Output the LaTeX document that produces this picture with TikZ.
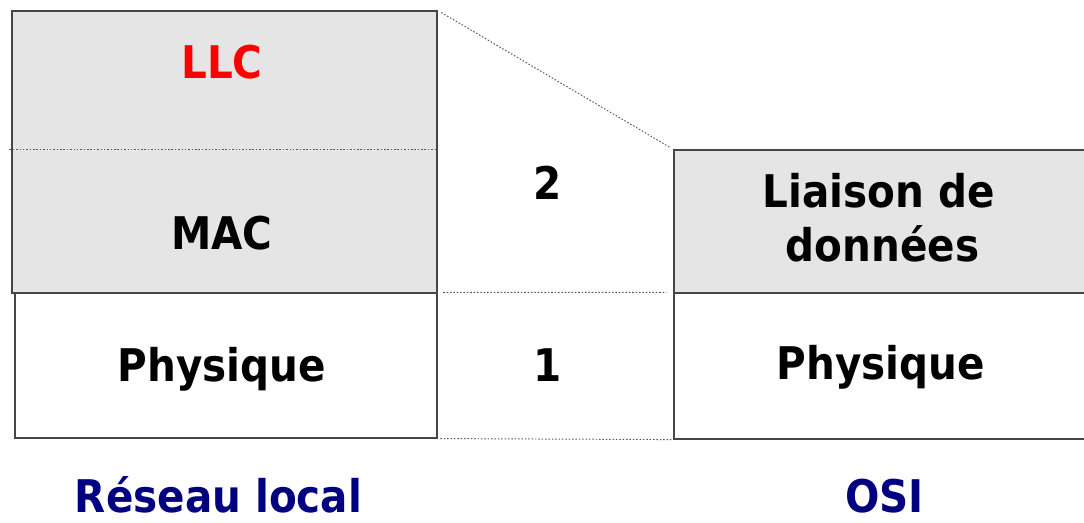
\documentclass[tikz,border=0pt]{standalone}
\usepackage{xcolor}
\usepackage{fontspec}
\setmainfont{DejaVu Sans Condensed}
\usepackage{tikz}
\usetikzlibrary{calc}

\definecolor{layergray}{RGB}{229,229,229}
\definecolor{framegray}{RGB}{70,70,70}
\definecolor{labelblue}{RGB}{0,0,128}

\tikzset{
	layer/.style={draw=framegray, line width=0.8pt, rectangle, inner sep=0pt, minimum width=#1},
	lbl/.style={anchor=base, inner sep=0pt, font=\fontsize{32}{38}\selectfont\bfseries},
	guide/.style={dash pattern=on 1.1pt off 1.3pt, line width=0.7pt, draw=black!65}
}

\begin{document}
\begin{tikzpicture}[x=0.025cm, y=-0.025cm]
\useasboundingbox (0,0) rectangle (1084,523);
\clip (0,0) rectangle (1084,523);

% Schichten Reseau local
\node[layer=10.625cm, minimum height=7.05cm, fill=layergray] (lan2) at (224.5,152) {};
\node[layer=10.55cm, minimum height=3.625cm] (lan1) at (226,365.5) {};
\draw[guide] ($(lan2.west)+(-2,-3)$) coordinate (m) -- (m -| lan2.east);

% Schichten OSI
\node[layer=10.65cm, minimum height=3.575cm, fill=layergray] (osi2) at (887,221.5) {};
\node[layer=10.65cm, minimum height=3.65cm] (osi1) at (887,366) {};

% Verbindungen
\draw[guide, shorten <=3pt, shorten >=2pt] (lan2.north east) -- (osi2.north west);
\draw[guide, shorten <=4pt, shorten >=5pt] (lan1.north east) -- (osi1.north west);
\draw[guide, shorten <=2pt] (lan1.south east) -- (osi1.south west);

\node[lbl, text=red] (llc) at (222,79) {LLC};
\node[lbl] (mac) at (222,250) {MAC};
\node[lbl] (phys) at (222,382) {Physique};

\node[lbl] (n2) at (548,200) {2};
\node[lbl] (n1) at (548,382) {1};

\node[lbl] (liaison) at (878.5,208) {Liaison de};
\node[lbl] (donnees) at (882.5,262) {données};
\node[lbl] (osiphys) at (881,380) {Physique};

\node[lbl, text=labelblue] (lan) at (218.5,512) {Réseau local};
\node[lbl, text=labelblue] (osi) at (884.5,512) {OSI};

\end{tikzpicture}
\end{document}
